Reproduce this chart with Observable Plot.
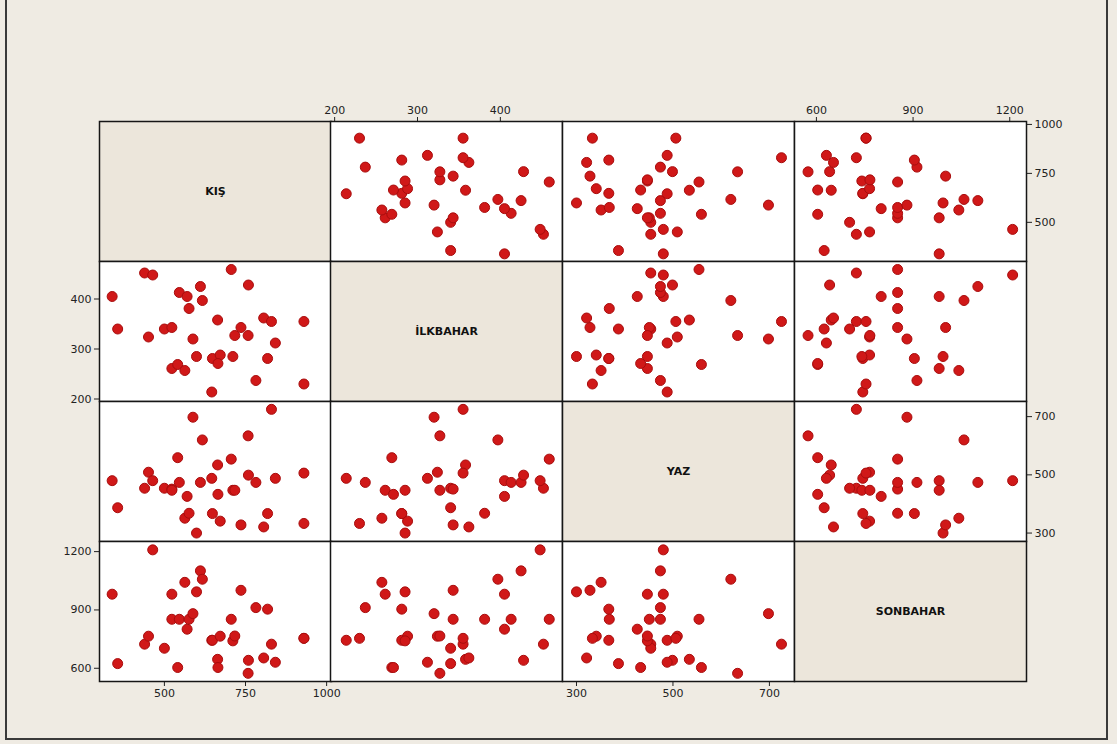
<!DOCTYPE html>
<html>
<head>
<meta charset="utf-8">
<script src="https://cdn.jsdelivr.net/npm/d3@7"></script>
<script src="https://cdn.jsdelivr.net/npm/@observablehq/plot@0.6"></script>
<style>
  html, body { margin: 0; padding: 0; background: #efebe3; width: 1117px; height: 744px; overflow: hidden; }
  #frame { position: absolute; left: 5px; top: -6px; width: 1103px; height: 746px; border: 2px solid #3a3a3a; box-sizing: border-box; }
  #matrix { position: absolute; left: 0; top: 0; width: 1117px; height: 744px; }
  #matrix svg { position: absolute; }
</style>
</head>
<body>
<div id="frame"></div>
<div id="matrix"></div>
<script>
// Seasonal totals, one entry per observation
const variables = ["KIŞ", "İLKBAHAR", "YAZ", "SONBAHAR"];
const kis      = [339, 356, 439, 451, 464, 500, 523, 523, 541, 546, 563, 570, 576, 588, 599, 611, 617, 646, 648, 664, 672, 665, 706, 711, 717, 736, 758, 759, 782, 806, 818, 830, 842, 930, 930];
const ilkbahar = [405, 340, 452, 324, 448, 340, 343, 261, 269, 413, 257, 405, 381, 320, 285, 425, 397, 214, 281, 358, 288, 271, 459, 285, 327, 343, 327, 428, 237, 362, 281, 355, 312, 355, 230];
const yaz      = [480, 387, 454, 509, 480, 454, 451, 447, 559, 474, 351, 426, 368, 698, 300, 474, 620, 488, 367, 534, 341, 433, 554, 447, 447, 328, 634, 499, 474, 321, 367, 725, 488, 506, 333];
const sonbahar = [981, 624, 724, 765, 1209, 703, 852, 981, 604, 852, 1042, 801, 852, 881, 993, 1101, 1058, 744, 744, 646, 765, 604, 852, 741, 766, 1001, 574, 641, 912, 653, 904, 724, 631, 754, 754];

// Tick values per variable
const kisTicks = [500, 750, 1000];
const ilkbaharTicks = [200, 300, 400];
const yazTicks = [300, 500, 700];
const sonbaharTicks = [600, 900, 1200];

const table = kis.map((_, i) => [kis[i], ilkbahar[i], yaz[i], sonbahar[i]]);
const tickSets = [kisTicks, ilkbaharTicks, yazTicks, sonbaharTicks];
const domains = [[300, 1015], [195, 475], [271, 752], [532, 1252]];

// Panel grid
const colLeft = [99, 330, 562, 794];
const rowTop = [121, 261, 401, 541];
const cellW = 232, cellH = 140, pad = 40;

// Where each variable's axis is drawn: x axes on alternating top/bottom, y axes on alternating left/right
const xAxisAt = {"0,3": "top", "0,1": "top", "3,0": "bottom", "3,2": "bottom"}; // key "row,col"
const yAxisAt = {"1,0": "left", "3,0": "left", "0,3": "right", "2,3": "right"};

const container = document.getElementById("matrix");

for (let r = 0; r < 4; ++r) {
  for (let c = 0; c < 4; ++c) {
    const key = `${r},${c}`;
    const diag = r === c;
    const marks = [Plot.frame({fill: diag ? "#ece6db" : "#ffffff"})];
    if (diag) {
      marks.push(Plot.text([variables[r]], {
        frameAnchor: "middle", text: d => d,
        fontWeight: "bold", fontSize: 11, fill: "#111"
      }));
    } else {
      marks.push(Plot.dot(table, {
        x: d => d[c], y: d => d[r], r: 5,
        fill: "#d01818", stroke: "#a80d0d", strokeWidth: 1
      }));
    }
    marks.push(Plot.frame({stroke: "#161616", strokeWidth: 1.5}));

    const chart = Plot.plot({
      width: cellW + 2 * pad,
      height: cellH + 2 * pad,
      margin: pad,
      x: {
        domain: diag ? domains[c] : domains[c],
        axis: xAxisAt[key] || null,
        ticks: tickSets[c], tickSize: 5, tickPadding: 3, label: null, tickFormat: d => String(d)
      },
      y: {
        domain: domains[r],
        axis: yAxisAt[key] || null,
        ticks: tickSets[r], tickSize: 5, tickPadding: 3, label: null, tickFormat: d => String(d)
      },
      style: {
        background: "transparent", overflow: "visible",
        fontFamily: "'DejaVu Sans', Verdana, sans-serif", fontSize: "11px", color: "#222"
      },
      marks
    });
    chart.style.position = "absolute";
    chart.style.left = `${colLeft[c] - pad}px`;
    chart.style.top = `${rowTop[r] - pad}px`;
    chart.style.maxWidth = "none";
    container.appendChild(chart);
  }
}
</script>
</body>
</html>
